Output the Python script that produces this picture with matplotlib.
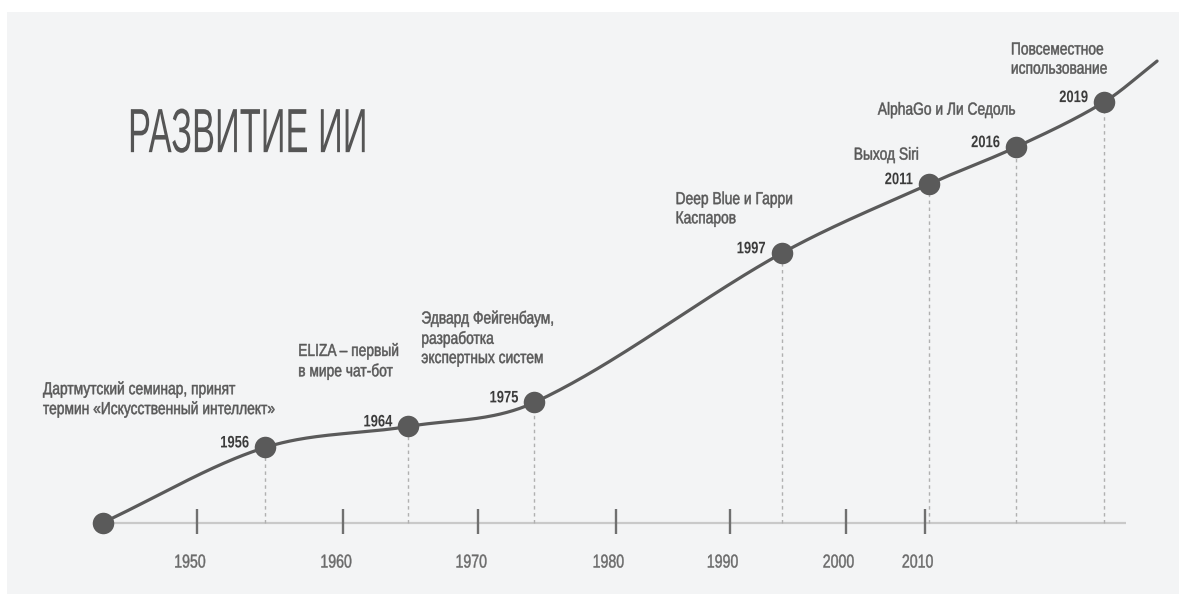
import numpy as np
import matplotlib
matplotlib.use("Agg")
import matplotlib.pyplot as plt
from matplotlib import font_manager
from matplotlib.patches import Rectangle
from matplotlib.patheffects import AbstractPathEffect
from matplotlib.transforms import Affine2D

# ---- data -------------------------------------------------------------
milestone_years = [1956, 1964, 1975, 1997, 2011, 2016, 2019]
# position of each milestone along the (stylised) timeline, 0..100
milestone_pos = [16.2, 30.5, 43.1, 67.8, 82.5, 91.2, 100.0]
# height of the "progress" curve at each milestone
milestone_level = [7.5, 9.6, 12.0, 26.9, 33.8, 37.5, 42.0]
milestone_text = [
    "Дартмутский семинар, принят\nтермин «Искусственный интеллект»",
    "ELIZA – первый\nв мире чат-бот",
    "Эдвард Фейгенбаум,\nразработка\nэкспертных систем",
    "Deep Blue и Гарри\nКаспаров",
    "Выход Siri",
    "AlphaGo и Ли Седоль",
    "Повсеместное\nиспользование",
]
start_pos, start_level = 0.0, 0.0
end_pos, end_level = 105.3, 46.1

tick_labels = ["1950", "1960", "1970", "1980", "1990", "2000", "2010"]
tick_pos = [9.4, 24.0, 37.5, 51.2, 62.6, 74.2, 82.1]
axis_end = 102.2

title = "РАЗВИТИЕ ИИ"

# ---- styling helpers --------------------------------------------------
def has_font(name):
    try:
        font_manager.findfont(name, fallback_to_default=False)
        return True
    except ValueError:
        return False

if has_font("Liberation Sans Narrow"):
    FAMILY = "Liberation Sans Narrow"
    LABEL_SQ, TITLE_SQ = 1.0, 0.66
else:
    FAMILY = "Liberation Sans" if has_font("Liberation Sans") else "DejaVu Sans"
    LABEL_SQ, TITLE_SQ = 0.82, 0.54


class Squeeze(AbstractPathEffect):
    """Horizontally condense text glyphs around the left or right edge."""

    def __init__(self, factor, anchor="left", stroke=0.0):
        super().__init__()
        self.factor = factor
        self.anchor = anchor
        self.stroke = stroke

    def draw_path(self, renderer, gc, tpath, affine, rgbFace=None):
        x0 = 0.0
        if self.anchor == "right":
            x0 = tpath.get_extents().x1
        sq = Affine2D().translate(-x0, 0).scale(self.factor, 1).translate(x0, 0)
        gc0 = renderer.new_gc()
        gc0.copy_properties(gc)
        if self.stroke > 0 and rgbFace is not None:
            gc0.set_linewidth(self.stroke)
            gc0.set_foreground(rgbFace)
        renderer.draw_path(gc0, tpath, sq + affine, rgbFace)
        gc0.restore()


INK = "#5a5a5a"
TEXT = "#585858"
YEAR = "#3c3c3c"
AXIS = "#c9c9c9"
TICK = "#707070"
DOTS = "#b0b0b0"

# ---- smooth curve through the milestones (cubic Hermite) --------------
px = np.array([start_pos] + milestone_pos + [end_pos])
py = np.array([start_level] + milestone_level + [end_level])
slopes = np.empty_like(px)
slopes[1:-1] = (py[2:] - py[:-2]) / (px[2:] - px[:-2])
slopes[0] = (py[1] - py[0]) / (px[1] - px[0])
slopes[-1] = (py[-1] - py[-2]) / (px[-1] - px[-2])

cx, cy = [], []
for i in range(len(px) - 1):
    h = px[i + 1] - px[i]
    t = np.linspace(0, 1, 60)
    h00 = 2 * t**3 - 3 * t**2 + 1
    h10 = t**3 - 2 * t**2 + t
    h01 = -2 * t**3 + 3 * t**2
    h11 = t**3 - t**2
    cx.append(px[i] + t * h)
    cy.append(h00 * py[i] + h10 * h * slopes[i] + h01 * py[i + 1] + h11 * h * slopes[i + 1])
cx = np.concatenate(cx)
cy = np.concatenate(cy)

# ---- figure -----------------------------------------------------------
fig = plt.figure(figsize=(11.79, 5.94), dpi=100, facecolor="white")
fig.patches.append(Rectangle((7 / 1179, 0), 1, 1 - 12 / 594, transform=fig.transFigure,
                             facecolor="#f3f4f5", edgecolor="none", zorder=-10))
ax = fig.add_axes([0, 0, 1, 1])
ax.set_zorder(1)
ax.set_axis_off()
ax.patch.set_alpha(0)
ax.set_xlim(-10.29, 107.49)
ax.set_ylim(-7.14, 52.2)

# baseline and ticks
ax.plot([start_pos, axis_end], [0, 0], color=AXIS, lw=1.6, solid_capstyle="butt", zorder=1)
ax.vlines(tick_pos, -1.15, 1.35, color=TICK, lw=1.7, zorder=2)
for lab, x in zip(tick_labels, tick_pos):
    ax.text(x - 0.2, -4.05, lab, ha="center", va="center", fontsize=13.5,
            family=FAMILY, color="#6a6a6a",
            path_effects=[Squeeze(LABEL_SQ * 0.92, "left", 0.3)])

# dotted drop lines from each milestone
ax.vlines(milestone_pos, 0, milestone_level, color=DOTS, lw=1.0,
          linestyles=(0, (2.5, 2.5)), zorder=1)

# progress curve and milestone dots
ax.plot(cx, cy, color=INK, lw=2.3, solid_capstyle="round", zorder=3)
ax.plot(milestone_pos, milestone_level, "o", ms=15.5, color=INK, mec="none", zorder=4)
ax.plot([start_pos], [start_level], "o", ms=15.5, color=INK, mec="none", zorder=4)

# label placement relative to each dot
text_offsets = [(-22.2, 4.8), (-11.0, 6.5), (-11.3, 6.4), (-10.6, 4.4),
                (-7.5, 2.9), (-13.8, 3.7), (-9.3, 4.25)]
year_offset = (-1.6, 0.45)

for yr, x, y, txt, (dx, dy) in zip(milestone_years, milestone_pos, milestone_level,
                                   milestone_text, text_offsets):
    ax.text(x + year_offset[0], y + year_offset[1], str(yr), ha="right", va="center",
            fontsize=12, fontweight="bold", family=FAMILY, color=YEAR,
            path_effects=[Squeeze(LABEL_SQ * 0.95, "right")], zorder=5)
    ax.text(x + dx, y + dy, txt, ha="left", va="center", fontsize=12.5,
            family=FAMILY, color=TEXT, linespacing=1.35,
            path_effects=[Squeeze(LABEL_SQ * 0.97, "left", 0.35)], zorder=5)

ax.text(2.5, 37.0, title, ha="left", va="baseline", fontsize=45, family=FAMILY,
        color="#555555", path_effects=[Squeeze(TITLE_SQ * 1.02, "left")], zorder=5)

fig.savefig("out.png", dpi=100, facecolor=fig.get_facecolor())
